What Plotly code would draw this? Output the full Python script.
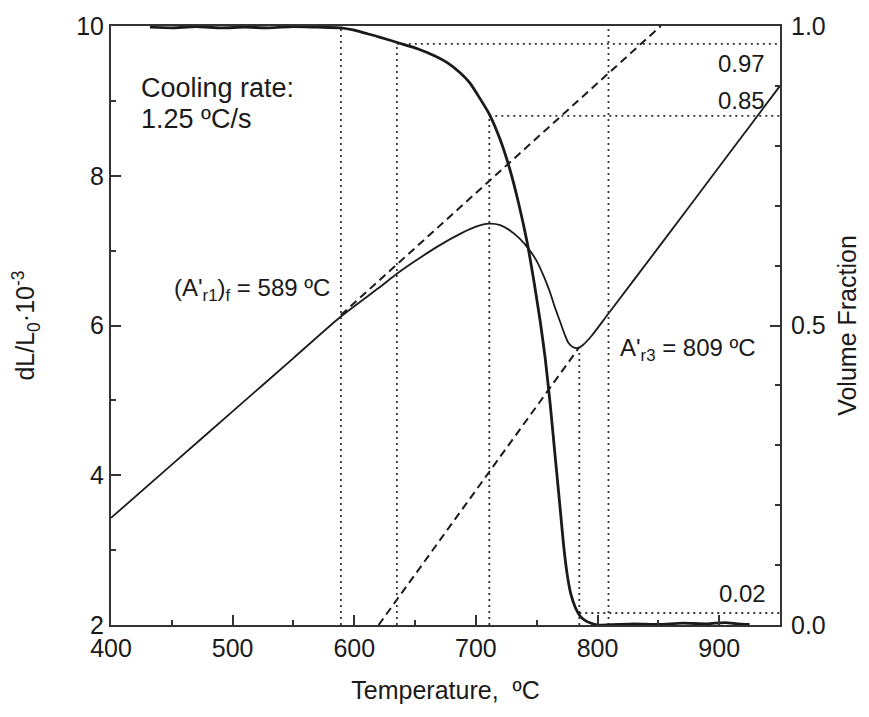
import plotly.graph_objects as go

# ---- data ----
# Dilatometric curve dL/L0 (x10^-3) vs temperature
dil_temp = [400, 450, 500, 550, 589, 620, 635, 650, 669, 689, 700, 711, 720, 728, 736,
            743, 750, 756, 761, 765, 769, 773, 776, 780, 784, 788, 795, 809, 850, 900, 950]
dil_val = [3.43, 4.142, 4.853, 5.565, 6.12, 6.50, 6.69, 6.86, 7.06, 7.24, 7.32, 7.36, 7.34, 7.27, 7.16,
           7.03, 6.86, 6.65, 6.44, 6.24, 6.06, 5.88, 5.77, 5.71, 5.70, 5.74, 5.86, 6.16, 7.04, 8.12, 9.20]

# Transformed volume fraction vs temperature
vf_temp = [432, 450, 470, 490, 510, 530, 550, 570, 589, 600, 609, 620, 636, 652, 665, 677, 687,
           695, 703, 711, 720, 728, 735, 742, 748, 753, 757, 761, 765, 769, 772, 775, 778, 782,
           786, 791, 796, 800, 830, 850, 870, 890, 905, 915, 925]
vf_val = [0.998, 0.997, 0.999, 0.997, 0.998, 0.997, 0.999, 0.998, 0.997, 0.993, 0.988, 0.982,
          0.972, 0.962, 0.951, 0.938, 0.922, 0.905, 0.880, 0.853, 0.810, 0.760, 0.705, 0.640,
          0.570, 0.505, 0.445, 0.370, 0.285, 0.200, 0.135, 0.085, 0.052, 0.028, 0.014, 0.006,
          0.002, 0.000, 0.002, 0.001, 0.003, 0.002, 0.004, 0.002, 0.001]

# Dashed extrapolation lines (dL/L0)
ferrite_ext_temp = [589, 852]
ferrite_ext_val = [6.14, 10.0]
austenite_ext_temp = [620, 785]
austenite_ext_val = [2.0, 5.71]

# Dotted guide lines: vertical (temperature, fraction from, fraction to)
vline_temp = [589, 635, 711, 785, 809]
vline_from = [0.0, 0.0, 0.0, 0.0, 0.0]
vline_to = [1.0, 0.97, 0.85, 0.46, 1.0]
# horizontal (fraction, temperature from, temperature to)
hline_frac = [0.97, 0.85, 0.02]
hline_from = [635, 711, 785]
hline_to = [950, 950, 950]

# Tick values
x_ticks = [400, 500, 600, 700, 800, 900]
y_ticks = [2, 4, 6, 8, 10]
y2_ticks = [0.0, 0.5, 1.0]
y2_ticktext = ["0.0", "0.5", "1.0"]

FONT = "Arial, 'Liberation Sans', Helvetica, sans-serif"
INK = "#1a1a1a"

fig = go.Figure()

# dotted guides on fraction axis
for t, a, b in zip(vline_temp, vline_from, vline_to):
    fig.add_trace(go.Scatter(x=[t, t], y=[a, b], yaxis="y2", mode="lines",
                             line=dict(color="#333", width=1.8, dash="2px,4px"),
                             hoverinfo="skip"))
for f, a, b in zip(hline_frac, hline_from, hline_to):
    fig.add_trace(go.Scatter(x=[a, b], y=[f, f], yaxis="y2", mode="lines",
                             line=dict(color="#333", width=1.8, dash="2px,4px"),
                             hoverinfo="skip"))

# dashed extrapolations
fig.add_trace(go.Scatter(x=ferrite_ext_temp, y=ferrite_ext_val, mode="lines",
                         line=dict(color=INK, width=2, dash="8px,5px")))
fig.add_trace(go.Scatter(x=austenite_ext_temp, y=austenite_ext_val, mode="lines",
                         line=dict(color=INK, width=2, dash="8px,5px")))

# dilatometric curve
fig.add_trace(go.Scatter(x=dil_temp, y=dil_val, mode="lines",
                         line=dict(color=INK, width=1.8, shape="spline", smoothing=0.6)))

# volume fraction curve
fig.add_trace(go.Scatter(x=vf_temp, y=vf_val, yaxis="y2", mode="lines",
                         line=dict(color=INK, width=2.8, shape="spline", smoothing=0.5)))

ann_font = dict(family=FONT, size=24, color=INK)
big_font = dict(family=FONT, size=27, color=INK)
fig.add_annotation(x=423, y=9.17, xref="x", yref="y", text="Cooling rate:",
                   showarrow=False, xanchor="left", yanchor="middle", font=big_font)
fig.add_annotation(x=423, y=8.76, xref="x", yref="y", text="1.25 ºC/s",
                   showarrow=False, xanchor="left", yanchor="middle", font=big_font)
fig.add_annotation(x=450, y=6.48, xref="x", yref="y",
                   text="(A'<sub>r1</sub>)<sub>f</sub> = 589 ºC",
                   showarrow=False, xanchor="left", yanchor="middle", font=ann_font)
fig.add_annotation(x=817, y=5.68, xref="x", yref="y",
                   text="A'<sub>r3</sub> = 809 ºC",
                   showarrow=False, xanchor="left", yanchor="middle", font=ann_font)
fig.add_annotation(x=939, y=0.938, xref="x", yref="y2", text="0.97",
                   showarrow=False, xanchor="right", yanchor="middle", font=ann_font)
fig.add_annotation(x=939, y=0.875, xref="x", yref="y2", text="0.85",
                   showarrow=False, xanchor="right", yanchor="middle", font=ann_font)
fig.add_annotation(x=940, y=0.053, xref="x", yref="y2", text="0.02",
                   showarrow=False, xanchor="right", yanchor="middle", font=ann_font)

axis_common = dict(showgrid=False, zeroline=False, showline=True, linewidth=2,
                   linecolor="#333", ticks="inside", ticklen=10, tickwidth=2,
                   tickcolor="#333", tickfont=dict(family=FONT, size=25, color=INK))

fig.update_layout(
    width=869, height=717,
    margin=dict(l=111, r=86, t=25, b=92),
    paper_bgcolor="white", plot_bgcolor="white",
    showlegend=False,
    font=dict(family=FONT, size=25, color=INK),
    xaxis=dict(range=[400, 950], tickvals=x_ticks, mirror=True,
               minor=dict(ticks="inside", ticklen=5, tickwidth=2, dtick=50, tick0=400,
                          tickcolor="#333"),
               title=dict(text="Temperature, \u00a0ºC", font=dict(family=FONT, size=25, color=INK),
                          standoff=20),
               **axis_common),
    yaxis=dict(range=[2, 10], tickvals=y_ticks,
               minor=dict(ticks="inside", ticklen=5, tickwidth=2, dtick=1, tick0=2,
                          tickcolor="#333"),
               title=dict(text="dL/L<sub>0</sub>·10<sup>-3</sup>",
                          font=dict(family=FONT, size=25, color=INK), standoff=34),
               **axis_common),
    yaxis2=dict(range=[0, 1], overlaying="y", side="right", tickvals=y2_ticks,
                ticktext=y2_ticktext, ticklabelstandoff=4,
                minor=dict(ticks="inside", ticklen=5, tickwidth=2, dtick=0.1, tick0=0,
                           tickcolor="#333"),
                title=dict(text="Volume Fraction", font=dict(family=FONT, size=25, color=INK),
                           standoff=14),
                **axis_common),
)

fig.write_html("out.html",
               config={"displayModeBar": False},
               post_script="document.body.style.margin='0px';document.body.style.padding='0px';")
